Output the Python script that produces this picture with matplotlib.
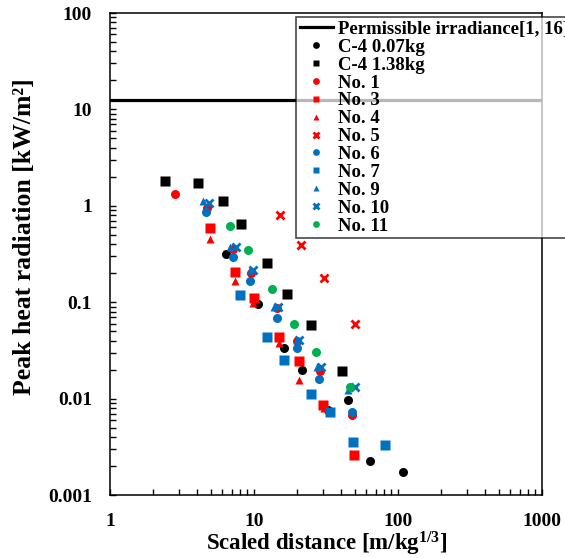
import matplotlib
matplotlib.use("Agg")
import matplotlib.pyplot as plt
from matplotlib.ticker import LogLocator, FixedLocator, FixedFormatter, NullFormatter

plt.rcParams['font.family'] = ['Liberation Serif', 'DejaVu Serif']
plt.rcParams['font.weight'] = 'bold'
plt.rcParams['mathtext.fontset'] = 'custom'
plt.rcParams['mathtext.rm'] = 'Liberation Serif:bold'
plt.rcParams['mathtext.bf'] = 'Liberation Serif:bold'
plt.rcParams['mathtext.it'] = 'Liberation Serif:bold'

# permissible irradiance threshold [kW/m2]
permissible = 12.5

# scaled distance / peak heat radiation for each test series
c4_small_x = [6.39, 10.7, 16.2, 21.5, 32.6, 45.0, 63.9, 108]
c4_small_y = [0.32, 0.096, 0.0335, 0.0198, 0.0076, 0.0097, 0.00225, 0.00173]

c4_large_x = [2.41, 4.08, 6.09, 8.12, 12.3, 16.9, 24.9, 40.8]
c4_large_y = [1.81, 1.72, 1.12, 0.65, 0.255, 0.122, 0.058, 0.0193]

no1_x = [2.83, 4.7, 7.1, 9.5, 14.4, 19.8, 28.7, 48.0]
no1_y = [1.33, 0.95, 0.36, 0.20, 0.088, 0.040, 0.0193, 0.0068]

no3_x = [4.95, 7.38, 10.0, 14.9, 20.5, 30.2, 49.5]
no3_y = [0.59, 0.206, 0.111, 0.044, 0.0245, 0.0086, 0.0026]

no4_x = [4.95, 7.38, 9.85, 14.9, 20.5, 30.5]
no4_y = [0.45, 0.166, 0.098, 0.0378, 0.0156, 0.0079]

no5_x = [15.2, 21.2, 30.6, 50.3]
no5_y = [0.80, 0.39, 0.178, 0.059]

no6_x = [4.64, 7.15, 9.38, 14.4, 19.9, 28.3, 48.0]
no6_y = [0.86, 0.294, 0.166, 0.069, 0.0335, 0.016, 0.0073]

no7_x = [8.0, 12.3, 16.2, 24.9, 33.7, 48.7, 81.3]
no7_y = [0.119, 0.0436, 0.0251, 0.0112, 0.0073, 0.00355, 0.0033]

no9_x = [4.42, 6.81, 9.4, 13.8, 19.9, 27.4, 45.0]
no9_y = [1.12, 0.374, 0.216, 0.089, 0.0406, 0.0213, 0.0123]

no10_x = [4.87, 7.5, 9.85, 14.7, 20.5, 29.2, 50.3]
no10_y = [1.07, 0.374, 0.216, 0.089, 0.0406, 0.0213, 0.0132]

no11_x = [6.81, 9.09, 13.3, 18.9, 27.0, 46.4]
no11_y = [0.62, 0.348, 0.137, 0.059, 0.0304, 0.0132]

red = '#FF0000'
blue = '#0070C0'
green = '#00B050'

fig = plt.figure(figsize=(5.65, 5.58), dpi=100)
fig.subplots_adjust(left=110/565, right=542/565, top=1-13/558, bottom=1-495/558)
ax = fig.add_subplot(111)

ax.axhline(permissible, color='black', lw=2.3, label='Permissible irradiance[1, 16]', zorder=1)

ax.plot(c4_small_x, c4_small_y, 'o', color='black', ms=6.5, mec='none', label='C-4 0.07kg')
ax.plot(c4_large_x, c4_large_y, 's', color='black', ms=6.5, mec='none', label='C-4 1.38kg')
ax.plot(no1_x, no1_y, 'o', color=red, ms=6.5, mec='none', label='No. 1')
ax.plot(no3_x, no3_y, 's', color=red, ms=6.5, mec='none', label='No. 3')
ax.plot(no4_x, no4_y, '^', color=red, ms=5.5, mec='none', label='No. 4')
ax.plot(no5_x, no5_y, 'x', color=red, ms=6, mew=2, label='No. 5')
ax.plot(no6_x, no6_y, 'o', color=blue, ms=6.5, mec='none', label='No. 6')
ax.plot(no7_x, no7_y, 's', color=blue, ms=6.5, mec='none', label='No. 7')
ax.plot(no9_x, no9_y, '^', color=blue, ms=5.5, mec='none', label='No. 9')
ax.plot(no10_x, no10_y, 'x', color=blue, ms=6, mew=2, label='No. 10')
ax.plot(no11_x, no11_y, 'o', color=green, ms=6.5, mec='none', label='No. 11')

ax.set_xscale('log')
ax.set_yscale('log')
ax.set_xlim(1, 1000)
ax.set_ylim(0.001, 100)

ax.xaxis.set_major_locator(FixedLocator([1, 10, 100, 1000]))
ax.xaxis.set_major_formatter(FixedFormatter(['1', '10', '100', '1000']))
ax.yaxis.set_major_locator(FixedLocator([0.001, 0.01, 0.1, 1, 10, 100]))
ax.yaxis.set_major_formatter(FixedFormatter(['0.001', '0.01', '0.1', '1', '10', '100']))
ax.xaxis.set_minor_locator(LogLocator(base=10, subs=range(2, 10), numticks=20))
ax.yaxis.set_minor_locator(LogLocator(base=10, subs=range(2, 10), numticks=20))
ax.xaxis.set_minor_formatter(NullFormatter())
ax.yaxis.set_minor_formatter(NullFormatter())

ax.tick_params(which='both', direction='in', length=4, width=1, labelsize=14, pad=13)
for side in ax.spines.values():
    side.set_linewidth(1.1)

ax.set_xlabel('Scaled distance [m/kg$^{1/3}$]', fontsize=16.5, fontweight='bold', va='center')
ax.set_ylabel('Peak heat radiation [kW/m²]', fontsize=18.5, fontweight='bold', va='center')
ax.xaxis.set_label_coords(0.502, -0.101)
ax.yaxis.set_label_coords(-0.197, 0.535)

leg = ax.legend(loc='upper left', bbox_to_anchor=(0.4306, 0.9917), borderaxespad=0,
                fontsize=13.5, frameon=True, fancybox=False, framealpha=0.72,
                edgecolor='black', labelspacing=0.04, handlelength=1.75,
                handletextpad=0.27, borderpad=0.2, markerscale=0.75)
leg.get_frame().set_linewidth(1.2)
for t in leg.get_texts():
    t.set_fontweight('bold')

fig.savefig('out.png', dpi=100)
